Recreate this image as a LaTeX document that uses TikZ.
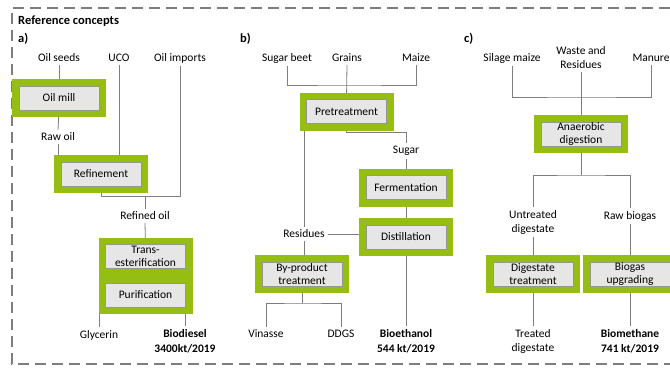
\documentclass[tikz,border=0pt]{standalone}
\usepackage{fontspec}
\setmainfont{Carlito}
\usetikzlibrary{positioning, backgrounds}
\definecolor{framegreen}{RGB}{150,190,18}
\definecolor{boxfill}{RGB}{230,230,230}
\definecolor{boxline}{RGB}{150,150,150}
\definecolor{linegray}{RGB}{125,125,125}
\tikzstyle{process} = [draw=boxline, fill=boxfill, rectangle,
    minimum height=24pt, minimum width=80pt, inner sep=0pt, align=center,
    font=\fontsize{11.5}{12.5}\selectfont,
    preaction={draw=framegreen, line width=14pt}]
\tikzstyle{flow} = [align=center, inner sep=3pt]
\tikzstyle{product} = [flow, font=\fontsize{11.5}{15}\selectfont\bfseries]
\tikzstyle{panel} = [anchor=west, inner sep=0pt, font=\fontsize{12.5}{14}\selectfont\bfseries]
\tikzstyle{conn} = [draw=linegray, line width=0.8pt]

\begin{document}
\begin{tikzpicture}[x=1pt, y=-1pt, node distance=14pt,
        font=\fontsize{11.5}{14}\selectfont]
    \useasboundingbox (0,0) rectangle (670,368);
    \draw[linegray, line width=1.6pt, dash pattern=on 11pt off 6pt]
        (670,8) -- (12,8) -- (12,364) -- (670,364);

    \node[panel](title) at (18,21) {Reference concepts};
    \node[panel](pa) at (18,39) {a)};
    \node[panel](pb) at (240,39) {b)};
    \node[panel](pc) at (464,39) {c)};

    % a) biodiesel
    \node[flow](oilseeds) at (59,58) {Oil seeds};
    \node[flow](uco) at (119,58) {UCO};
    \node[flow](oilimp) at (180,58) {Oil imports};
    \node[process](oilmill) at (59,98) {Oil mill};
    \node[flow](rawoil) at (58,137) {Raw oil};
    \node[process](refine) at (101,174) {Refinement};
    \node[flow](refoil) at (145,216) {Refined oil};
    \node[process](transest) at (145.5,256.5) {Trans-\\esterification};
    \node[process, below=of transest](purif) {Purification};
    \node[flow](glycerin) at (99,335) {Glycerin};
    \node[product](biodiesel) at (185,341) {Biodiesel\\3400kt/2019};
    \coordinate (amerge) at (145,196);
    \coordinate (asplit) at (145,313);

    % b) bioethanol
    \node[flow](sugarbeet) at (287,58) {Sugar beet};
    \node[flow](grains) at (347,58) {Grains};
    \node[flow](maize) at (416,58) {Maize};
    \node[process](pretreat) at (346.5,111.5) {Pretreatment};
    \node[flow](sugar) at (406,151) {Sugar};
    \node[process](ferment) at (406,187.5) {Fermentation};
    \node[process, below=25pt of ferment](distill) {Distillation};
    \node[flow](residues) at (304,234) {Residues};
    \node[process](byprod) at (302,274) {By-product\\treatment};
    \node[flow](vinasse) at (266,334) {Vinasse};
    \node[flow](ddgs) at (341,334) {DDGS};
    \node[product](bioethanol) at (406,341) {Bioethanol\\544 kt/2019};
    \coordinate (bmerge) at (347,85);
    \coordinate (bsplit) at (302,303);

    % c) biomethane
    \node[flow](silage) at (512,58) {Silage maize};
    \node[flow](waste) at (581,58) {Waste and\\Residues};
    \node[flow](manure) at (651,58) {Manure};
    \node[process](anaerob) at (581,134) {Anaerobic\\digestion};
    \node[flow](untreated) at (533,222) {Untreated\\digestate};
    \node[flow](rawbiogas) at (630,216) {Raw biogas};
    \node[process](digtreat) at (533,274) {Digestate\\treatment};
    \node[process](upgrade) at (630,274) {Biogas\\upgrading};
    \node[flow](treated) at (533,341) {Treated\\digestate};
    \node[product](biomethane) at (630,341) {Biomethane\\741 kt/2019};
    \coordinate (cmerge) at (581,97);
    \coordinate (csplit) at (581,175);

    \begin{scope}[on background layer, every path/.style={conn}]
        % a)
        \draw (oilseeds.south) -- (oilmill.north);
        \draw (oilmill.south) -- (rawoil.north);
        \draw (rawoil.south) -- (rawoil.south |- refine.north);
        \draw (uco.south) -- (uco.south |- refine.north);
        \draw (refine.south) |- (amerge) -- (refoil.north);
        \draw (oilimp.south) |- (amerge);
        \draw (refoil.south) -- (transest.north);
        \draw (transest.south) -- (purif.north);
        \draw (purif.south) -- (asplit);
        \draw (glycerin.north) |- (asplit) -| (biodiesel.north);
        % b)
        \draw (sugarbeet.south) |- (bmerge) -| (maize.south);
        \draw (grains.south) -- (pretreat.north);
        \draw (residues.north |- pretreat.south) -- (residues.north);
        \draw (pretreat.south) -- ++(0,9) -| (sugar.north);
        \draw (sugar.south) -- (ferment.north);
        \draw (ferment.south) -- (distill.north);
        \draw (residues.east) -- (residues.east -| distill.west);
        \draw (distill.south) -- (bioethanol.north);
        \draw (residues.south) -- (residues.south |- byprod.north);
        \draw (byprod.south) -- (bsplit);
        \draw (vinasse.north) |- (bsplit) -| (ddgs.north);
        % c)
        \draw (silage.south) |- (cmerge) -| (manure.south);
        \draw (waste.south) -- (anaerob.north);
        \draw (anaerob.south) -- (csplit);
        \draw (untreated.north) |- (csplit) -| (rawbiogas.north);
        \draw (untreated.south) -- (digtreat.north);
        \draw (rawbiogas.south) -- (upgrade.north);
        \draw (digtreat.south) -- (treated.north);
        \draw (upgrade.south) -- (biomethane.north);
    \end{scope}
\end{tikzpicture}
\end{document}
